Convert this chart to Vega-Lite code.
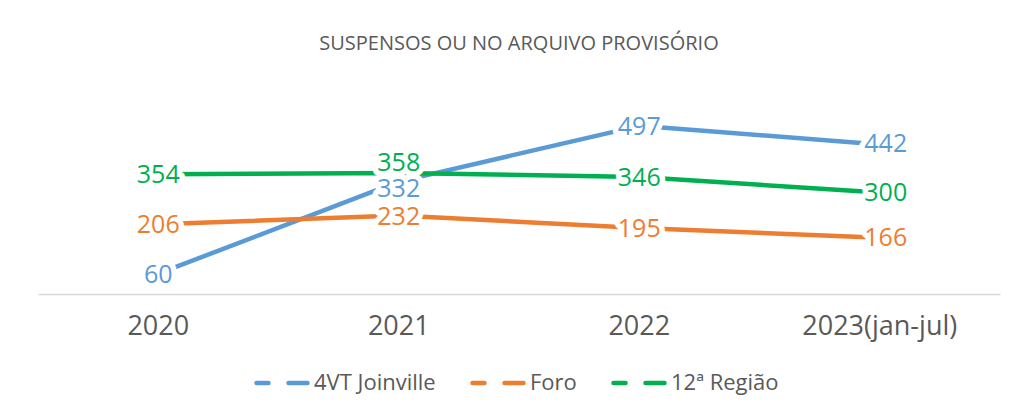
{
  "$schema": "https://vega.github.io/schema/vega-lite/v6.json",
  "autosize": "none",
  "width": 962,
  "height": 203,
  "padding": {"left": 38, "top": 91, "right": 25, "bottom": 124},
  "background": "white",
  "config": {
    "view": {"stroke": null},
    "font": "Open Sans"
  },
  "title": {
    "text": "SUSPENSOS OU NO ARQUIVO PROVISÓRIO",
    "anchor": "middle",
    "fontSize": 20,
    "fontWeight": "normal",
    "color": "#595959",
    "font": "Open Sans",
    "offset": 37
  },
  "data": {
    "values": [
      {"ano": "2020", "serie": "4VT Joinville", "valor": 60},
      {"ano": "2021", "serie": "4VT Joinville", "valor": 332},
      {"ano": "2022", "serie": "4VT Joinville", "valor": 497},
      {"ano": "2023(jan-jul)", "serie": "4VT Joinville", "valor": 442},
      {"ano": "2020", "serie": "Foro", "valor": 206},
      {"ano": "2021", "serie": "Foro", "valor": 232},
      {"ano": "2022", "serie": "Foro", "valor": 195},
      {"ano": "2023(jan-jul)", "serie": "Foro", "valor": 166},
      {"ano": "2020", "serie": "12ª Região", "valor": 354},
      {"ano": "2021", "serie": "12ª Região", "valor": 358},
      {"ano": "2022", "serie": "12ª Região", "valor": 346},
      {"ano": "2023(jan-jul)", "serie": "12ª Região", "valor": 300}
    ]
  },
  "encoding": {
    "x": {
      "field": "ano",
      "type": "nominal",
      "sort": null,
      "scale": {"type": "band", "paddingInner": 0, "paddingOuter": 0},
      "axis": {
        "title": null,
        "labelAngle": 0,
        "labelFontSize": 27,
        "labelColor": "#595959",
        "labelFont": "Open Sans",
        "labelPadding": 19,
        "ticks": false,
        "domainColor": "#d9d9d9",
        "domainWidth": 1.5,
        "grid": false
      }
    },
    "y": {
      "field": "valor",
      "type": "quantitative",
      "scale": {"domain": [0, 600]},
      "axis": null
    },
    "text": {"field": "valor", "type": "quantitative"}
  },
  "layer": [
    {
      "mark": {"type": "line", "strokeWidth": 4.5, "strokeCap": "round", "strokeJoin": "round"},
      "encoding": {
        "color": {
          "field": "serie",
          "type": "nominal",
          "scale": {
            "domain": ["4VT Joinville", "Foro", "12ª Região"],
            "range": ["#5B9BD5", "#ED7D31", "#00B050"]
          },
          "legend": {
            "title": null,
            "orient": "none",
            "direction": "horizontal",
            "legendX": 216,
            "legendY": 264,
            "padding": 0,
            "symbolType": "stroke",
            "symbolSize": 2601,
            "symbolStrokeWidth": 4.5,
            "symbolDash": [12, 20, 20],
            "labelFontSize": 22,
            "labelColor": "#595959",
            "labelFont": "Open Sans",
            "labelOffset": 4,
            "columnPadding": 27,
            "encode": {"symbols": {"update": {"strokeCap": {"value": "round"}}}}
          }
        }
      }
    },
    {
      "transform": [{"filter": "!(datum.ano == '2021' && (datum.valor == 358 || datum.valor == 332)) && datum.ano != '2023(jan-jul)'"}],
      "mark": {"type": "text", "fontSize": 25, "font": "Open Sans", "stroke": "white", "strokeWidth": 11, "strokeJoin": "round", "fill": "white", "baseline": "middle", "dy": 1}
    },
    {
      "transform": [{"filter": "datum.ano == '2021' && datum.valor == 358"}],
      "mark": {"type": "text", "fontSize": 25, "font": "Open Sans", "stroke": "white", "strokeWidth": 11, "strokeJoin": "round", "fill": "white", "baseline": "middle", "dy": -10}
    },
    {
      "transform": [{"filter": "datum.ano == '2021' && datum.valor == 332"}],
      "mark": {"type": "text", "fontSize": 25, "font": "Open Sans", "stroke": "white", "strokeWidth": 11, "strokeJoin": "round", "fill": "white", "baseline": "middle", "dy": 7}
    },
    {
      "transform": [{"filter": "datum.ano == '2023(jan-jul)'"}],
      "mark": {"type": "text", "fontSize": 25, "font": "Open Sans", "stroke": "white", "strokeWidth": 11, "strokeJoin": "round", "fill": "white", "baseline": "middle", "dx": 6}
    },
    {
      "transform": [{"filter": "!(datum.ano == '2021' && (datum.valor == 358 || datum.valor == 332)) && datum.ano != '2023(jan-jul)'"}],
      "mark": {"type": "text", "fontSize": 25, "font": "Open Sans", "baseline": "middle", "dy": 1},
      "encoding": {"fill": {"field": "serie", "type": "nominal", "legend": null, "scale": {"domain": ["4VT Joinville", "Foro", "12ª Região"], "range": ["#5B9BD5", "#ED7D31", "#00B050"]}}}
    },
    {
      "transform": [{"filter": "datum.ano == '2021' && datum.valor == 358"}],
      "mark": {"type": "text", "fontSize": 25, "font": "Open Sans", "baseline": "middle", "dy": -10},
      "encoding": {"fill": {"field": "serie", "type": "nominal", "legend": null, "scale": {"domain": ["4VT Joinville", "Foro", "12ª Região"], "range": ["#5B9BD5", "#ED7D31", "#00B050"]}}}
    },
    {
      "transform": [{"filter": "datum.ano == '2021' && datum.valor == 332"}],
      "mark": {"type": "text", "fontSize": 25, "font": "Open Sans", "baseline": "middle", "dy": 7},
      "encoding": {"fill": {"field": "serie", "type": "nominal", "legend": null, "scale": {"domain": ["4VT Joinville", "Foro", "12ª Região"], "range": ["#5B9BD5", "#ED7D31", "#00B050"]}}}
    },
    {
      "transform": [{"filter": "datum.ano == '2023(jan-jul)'"}],
      "mark": {"type": "text", "fontSize": 25, "font": "Open Sans", "baseline": "middle", "dx": 6},
      "encoding": {"fill": {"field": "serie", "type": "nominal", "legend": null, "scale": {"domain": ["4VT Joinville", "Foro", "12ª Região"], "range": ["#5B9BD5", "#ED7D31", "#00B050"]}}}
    }
  ]
}
